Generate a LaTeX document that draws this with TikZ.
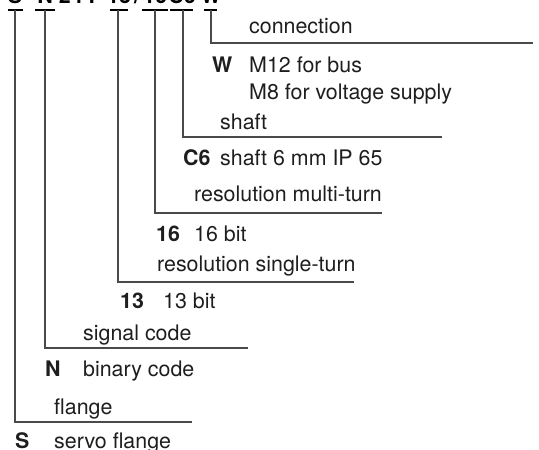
\documentclass[tikz,border=0pt]{standalone}
\usepackage{fontspec}
\setmainfont{TeX Gyre Heros}
\usepackage{xcolor}
\usetikzlibrary{positioning}

\definecolor{textgray}{HTML}{1E1E1E}
\definecolor{linegray}{HTML}{4A4A4A}
\newcommand{\labelsize}{\fontsize{21.4}{24}\selectfont}

\begin{document}
\begin{tikzpicture}[
  x=1pt, y=-1pt,
  txt/.style={anchor=base west, inner sep=0pt, text=textgray, font=\labelsize},
  key/.style={txt, font=\labelsize\bfseries},
  code/.style={anchor=base, inner sep=0pt, font=\labelsize\bfseries},
  lead/.style={draw=linegray, line width=1.3pt},
  tick/.style={draw=black, line width=2pt}
]
\useasboundingbox (0,0) rectangle (539,450);
\clip (0,0) rectangle (539,450);

% type code, cut off at the top
\node[code] (cS) at (15,3) {S};
\node[code] (cN) at (45,3) {N};
\node[code] (cP) at (81,3) {24 P};
\node[code] (c13) at (119,3) {13};
\node[code] (cslash) at (137,3) {/};
\node[code] (c16) at (155,3) {16};
\node[code] (cC6) at (182,3) {C6};
\node[code] (cW) at (211,3) {W};

% tick points under the code
\coordinate (tS) at (15,10);
\coordinate (tN) at (45,10);
\coordinate (t13) at (118,10);
\coordinate (t16) at (155,10);
\coordinate (tC6) at (183,10);
\coordinate (tW) at (211,10);

\draw[tick] ([xshift=-7pt]tS) -- ([xshift=8pt]tS);
\draw[tick] ([xshift=-10pt]tN) -- ([xshift=10pt]tN);
\draw[tick] ([xshift=-8pt]t13) -- ([xshift=10pt]t13);
\draw[tick] ([xshift=-13pt]t16) -- ([xshift=13pt]t16);
\draw[tick] ([xshift=-13pt]tC6) -- ([xshift=10pt]tC6);
\draw[tick] ([xshift=-7pt]tW) -- ([xshift=6pt]tW);

% ends of the leader lines
\coordinate (eW) at (533,43);
\coordinate (eC6) at (442,137);
\coordinate (e16) at (382,213);
\coordinate (e13) at (354,282);
\coordinate (eN) at (248,348);
\coordinate (eS) at (192,422);

\draw[lead] (tW) |- (eW);
\draw[lead] (tC6) |- (eC6);
\draw[lead] (t16) |- (e16);
\draw[lead] (t13) |- (e13);
\draw[lead] (tN) |- (eN);
\draw[lead] (tS) |- (eS);

% connection
\node[txt] (conn) at (249,33) {connection};
\node[key] (kW) at (212,72) {W};
\node[txt] (bus) at (249,72) {M12 for bus};
\node[txt] (supply) at (249,99) {M8 for voltage supply};

% shaft
\node[txt] (shaft) at (220,129) {shaft};
\node[key] (kC6) at (183,165) {C6};
\node[txt] (shaft6) at (220,165) {shaft 6 mm IP 65};

% multi-turn
\node[txt] (multi) at (194,201) {resolution multi-turn};
\node[key] (k16) at (156,241) {16};
\node[txt] (bit16) at (194,241) {16 bit};

% single-turn
\node[txt] (single) at (157,271) {resolution single-turn};
\node[key] (k13) at (120,308) {13};
\node[txt] (bit13) at (163,308) {13 bit};

% signal code
\node[txt] (signal) at (83,340) {signal code};
\node[key] (kN) at (45,376) {N};
\node[txt] (binary) at (83,376) {binary code};

% flange
\node[txt] (flange) at (54,414) {flange};
\node[key] (kS) at (15,448) {S};
\node[txt] (servo) at (54,448) {servo flange};
\end{tikzpicture}
\end{document}
